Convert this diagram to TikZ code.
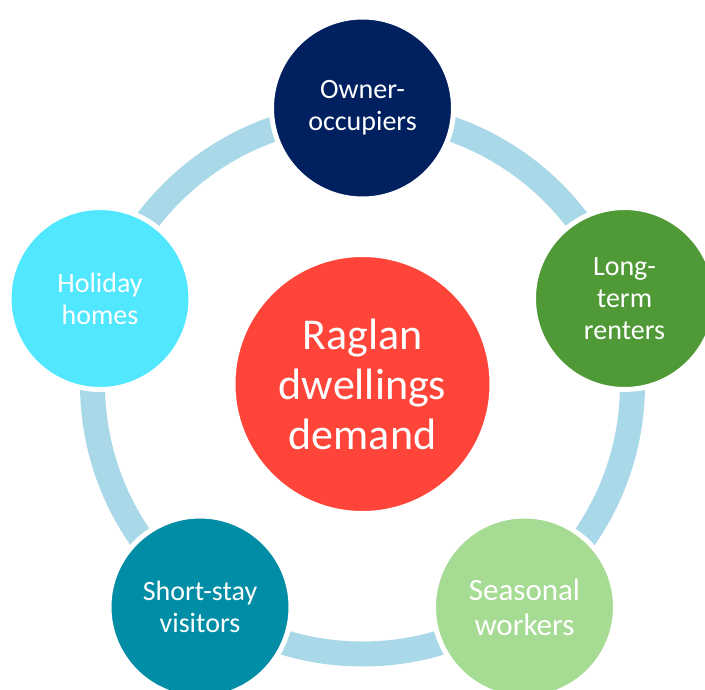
\documentclass[tikz,border=0pt]{standalone}
\usepackage{fontspec}
\setmainfont{Carlito}

\definecolor{ringblue}{HTML}{A9D9E8}
\definecolor{hubred}{HTML}{FF4539}
\definecolor{ownernavy}{HTML}{002060}
\definecolor{renterGreen}{HTML}{4F9A37}
\definecolor{workerGreen}{HTML}{A6DB94}
\definecolor{visitorTeal}{HTML}{028DA6}
\definecolor{holidayCyan}{HTML}{50E7FF}

\begin{document}
\begin{tikzpicture}[x=1pt, y=-1pt,
    bubble/.style={circle, draw=white, line width=5pt, minimum size=182pt,
      inner sep=0pt, align=center, text=white,
      font=\fontsize{28}{32}\selectfont},
    ring/.style={draw=ringblue, line width=25pt}]
    \useasboundingbox (0,0) rectangle (705,689);
    \clip (0,0) rectangle (705,689);

    \coordinate (mid) at (362.5,384);
    \draw[ring] (mid) circle[radius=270];

    \node[bubble, fill=hubred, minimum size=259pt,
      font=\fontsize{44}{50}\selectfont] (hub) at (mid) {Raglan\\dwellings\\demand};

    \node[bubble, fill=ownernavy] (owner) at (362.5,108) {Owner-\\occupiers};
    \node[bubble, fill=renterGreen] (renters) at (624.5,298.5) {Long-\\term\\renters};
    \node[bubble, fill=workerGreen, font=\fontsize{31}{35}\selectfont] (workers) at (524.5,607) {Seasonal\\workers};
    \node[bubble, fill=visitorTeal] (visitors) at (200,607) {Short-stay\\visitors};
    \node[bubble, fill=holidayCyan] (holiday) at (100,298.5) {Holiday\\homes};
  \end{tikzpicture}
\end{document}
